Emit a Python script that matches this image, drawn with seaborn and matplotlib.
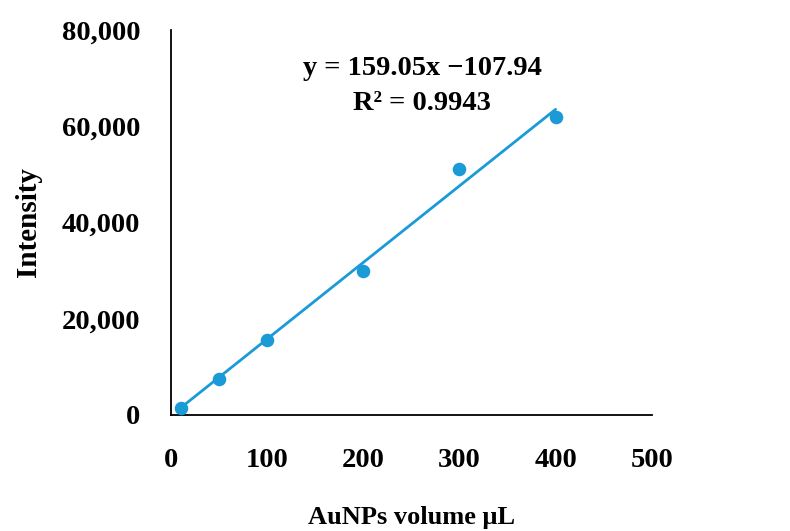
import matplotlib
matplotlib.use("Agg")
import matplotlib.pyplot as plt
import seaborn as sns
import numpy as np
import pandas as pd
from matplotlib.ticker import FuncFormatter

# Data
volume_ul = [10, 50, 100, 200, 300, 400]
intensity = [1520, 7500, 15480, 29850, 51190, 61940]

# Trendline coefficients (from the annotation)
slope = 159.05
intercept = -107.94
r_squared = 0.9943

x_ticks = [0, 100, 200, 300, 400, 500]
y_ticks = [0, 20000, 40000, 60000, 80000]

sns.set_theme(style="white")
plt.rcParams['font.family'] = ['Liberation Serif', 'DejaVu Serif']
plt.rcParams['font.weight'] = 'bold'

color = "#1a9ad6"

df = pd.DataFrame({"volume": volume_ul, "intensity": intensity})
trend_x = np.array([volume_ul[0], volume_ul[-1]])
trend = pd.DataFrame({"volume": trend_x, "fit": slope * trend_x + intercept})

fig = plt.figure(figsize=(7.9, 5.31), dpi=100)
ax = fig.add_axes([0.2165, 0.2185, 0.6085, 0.725])

sns.lineplot(data=trend, x="volume", y="fit", ax=ax, color=color, linewidth=2.0)
sns.scatterplot(data=df, x="volume", y="intensity", ax=ax, color=color, s=95,
                edgecolor=color, linewidth=0, zorder=3)

ax.set_xlim(0, 500)
ax.set_ylim(0, 80000)
ax.set_xticks(x_ticks)
ax.set_yticks(y_ticks)
ax.yaxis.set_major_formatter(FuncFormatter(lambda v, p: f"{int(v):,}"))

for s in ["top", "right"]:
    ax.spines[s].set_visible(False)
for s in ["left", "bottom"]:
    ax.spines[s].set_color("black")
    ax.spines[s].set_linewidth(1.3)

ax.tick_params(axis="both", length=0, labelsize=20.5, colors="black")
ax.tick_params(axis="x", pad=24)
ax.tick_params(axis="y", pad=22)
for lab in ax.get_xticklabels() + ax.get_yticklabels():
    lab.set_fontweight("bold")

ax.set_xlabel("AuNPs volume μL", fontsize=19, fontweight="bold", color="black")
ax.set_ylabel("Intensity", fontsize=21, fontweight="bold", color="black")
ax.xaxis.set_label_coords(0.5, -0.2675)
ax.xaxis.label.set_va("center")
ax.yaxis.set_label_coords(-0.297, 0.5)
ax.yaxis.label.set_va("center")

ax.text(0.522, 0.901, f"y = {slope}x \u2212{abs(intercept)}", transform=ax.transAxes,
        ha="center", va="center", fontsize=20.5, fontweight="bold", color="black")
ax.text(0.522, 0.810, f"R² = {r_squared}", transform=ax.transAxes,
        ha="center", va="center", fontsize=20.5, fontweight="bold", color="black")

fig.savefig("out.png", dpi=100, facecolor="white")
